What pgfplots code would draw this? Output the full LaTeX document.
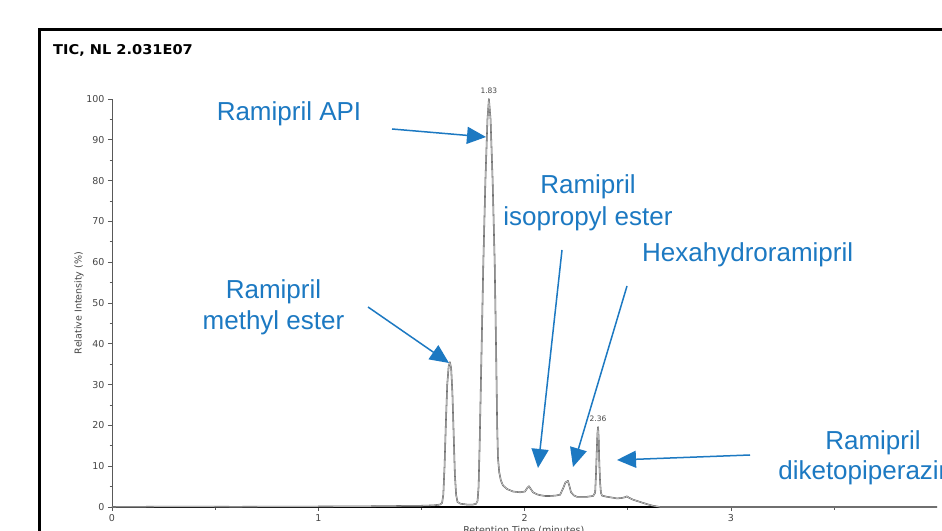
\documentclass[border=0pt]{standalone}
\usepackage{pgfplots}
\pgfplotsset{compat=1.18}
\usepackage{fontspec}
\usetikzlibrary{arrows.meta}
\setmainfont{DejaVu Sans}
\newfontfamily\annfont{Liberation Sans}
\newfontfamily\dv{DejaVu Sans}
\newfontfamily\titlefont[FakeStretch=1.08]{DejaVu Sans}
\definecolor{annblue}{RGB}{28,121,194}
\definecolor{labgray}{RGB}{70,70,70}
\definecolor{tracegray}{RGB}{95,95,95}
\begin{document}
\begin{tikzpicture}
\useasboundingbox (0,0) rectangle (942pt,530pt);
\clip (0,0) rectangle (942pt,530pt);
\fill[white] (0,0) rectangle (942pt,530pt);
\begin{axis}[
  at={(112pt,23pt)}, anchor=south west,
  scale only axis, width=825.2pt, height=408pt,
  xmin=0, xmax=4, ymin=0, ymax=100,
  clip=false,
  axis lines*=left,
  axis line style={-},
  x axis line style={black, line width=1.1pt},
  y axis line style={gray!70!black, line width=0.7pt},
  xtick={0,1,2,3}, minor xtick={0.5,1.5,2.5,3.5},
  ytick={0,10,...,100}, minor y tick num=1,
  tick align=outside,
  major tick length=4pt, minor tick length=2.5pt,
  tick style={gray!70!black, line width=0.6pt},
  /pgf/number format/assume math mode=true,
  tick label style={font=\dv\fontsize{9.5}{11}\selectfont, text=labgray},
  ylabel={Relative Intensity (\%)},
  ylabel style={at={(axis description cs:-0.040,0.5)}, anchor=center, rotate=0, font=\dv\fontsize{9.5}{11}\selectfont, text=labgray},
  xlabel={Retention Time (minutes)},
  xlabel style={at={(axis description cs:0.499,-0.058)}, anchor=center, font=\dv\fontsize{9.5}{11}\selectfont, text=labgray},
]
\addplot[draw=tracegray, line width=0.55pt, double=gray!25, double distance=0.45pt, line join=round] coordinates {
(0,0) (0.3,0.1) (0.6,0.05) (0.9,0.1) (1.2,0.15) (1.4,0.25) (1.5,0.3) (1.56,0.4) (1.59,0.6)
(1.600,1) (1.606,3) (1.612,10) (1.618,20) (1.625,30) (1.632,34.5) (1.638,35.5) (1.644,34) (1.650,28) (1.656,18) (1.662,8) (1.668,3) (1.675,1.2)
(1.69,0.8) (1.72,0.6) (1.75,0.6) (1.765,0.8)
(1.772,1.5) (1.777,5) (1.782,15) (1.79,35) (1.80,60) (1.81,80) (1.82,95) (1.827,100) (1.835,95) (1.845,80) (1.855,60) (1.862,38) (1.867,20) (1.871,12)
(1.877,8.5) (1.885,6.5) (1.895,5.3) (1.915,4.4) (1.944,3.8) (1.978,3.6) (2.002,3.8) (2.012,4.6) (2.021,5.1) (2.03,4.4) (2.041,3.6) (2.06,3.1) (2.075,2.9)
(2.10,2.7) (2.123,2.7) (2.15,2.8) (2.172,3.0) (2.186,4.5) (2.198,6.0) (2.21,6.4) (2.218,5.0) (2.225,3.6) (2.24,2.8) (2.254,2.5) (2.28,2.5) (2.302,2.5)
(2.332,2.7) (2.342,3.5) (2.346,8) (2.350,14) (2.353,18) (2.356,19.6) (2.359,17) (2.362,11) (2.366,6) (2.370,3.5) (2.375,2.8) (2.399,2.5) (2.425,2.3)
(2.448,2.1) (2.47,2.2) (2.487,2.4) (2.496,2.6) (2.505,2.3) (2.525,1.8) (2.55,1.4) (2.574,1.0) (2.60,0.6) (2.622,0.3) (2.656,0) (4,0)
};
\node[font=\dv\fontsize{7.5}{8}\selectfont, text=labgray, anchor=south] at (axis cs:1.827,100.5) {1.83};
\node[font=\dv\fontsize{7.5}{8}\selectfont, text=labgray, anchor=south] at (axis cs:2.356,20.1) {2.36};
\end{axis}
\begin{scope}[shift={(0pt,530pt)}, x=1pt, y=-1pt]
\draw[black, line width=2.5pt] (39.5,560) -- (39.5,29.5) -- (980,29.5);
\node[anchor=base west, inner sep=0pt, font=\titlefont\bfseries\fontsize{13.5}{15}\selectfont] at (53,55) {TIC, NL 2.031E07};
\begin{scope}[annblue, font=\annfont\fontsize{26}{31}\selectfont]
\node[anchor=base, inner sep=0pt] at (289,121) {Ramipril API};
\node[anchor=base, inner sep=0pt] at (273.5,299) {Ramipril};
\node[anchor=base, inner sep=0pt] at (273.5,330) {methyl ester};
\node[anchor=base, inner sep=0pt] at (588,194) {Ramipril};
\node[anchor=base, inner sep=0pt] at (588,226) {isopropyl ester};
\node[anchor=base west, inner sep=0pt] at (642,262) {Hexahydroramipril};
\node[anchor=base, inner sep=0pt] at (873,450) {Ramipril};
\node[anchor=base, inner sep=0pt] at (873,480) {diketopiperazine};
\end{scope}
\begin{scope}[annblue, line width=1.5pt, -{Triangle[length=19pt,width=17pt]}]
\draw (392,129) -- (486,137);
\draw (368,307) -- (449,363);
\draw (562,250) -- (538,468);
\draw (627,286) -- (573,467);
\draw (750,455) -- (617,460);
\end{scope}
\end{scope}
\end{tikzpicture}
\end{document}
